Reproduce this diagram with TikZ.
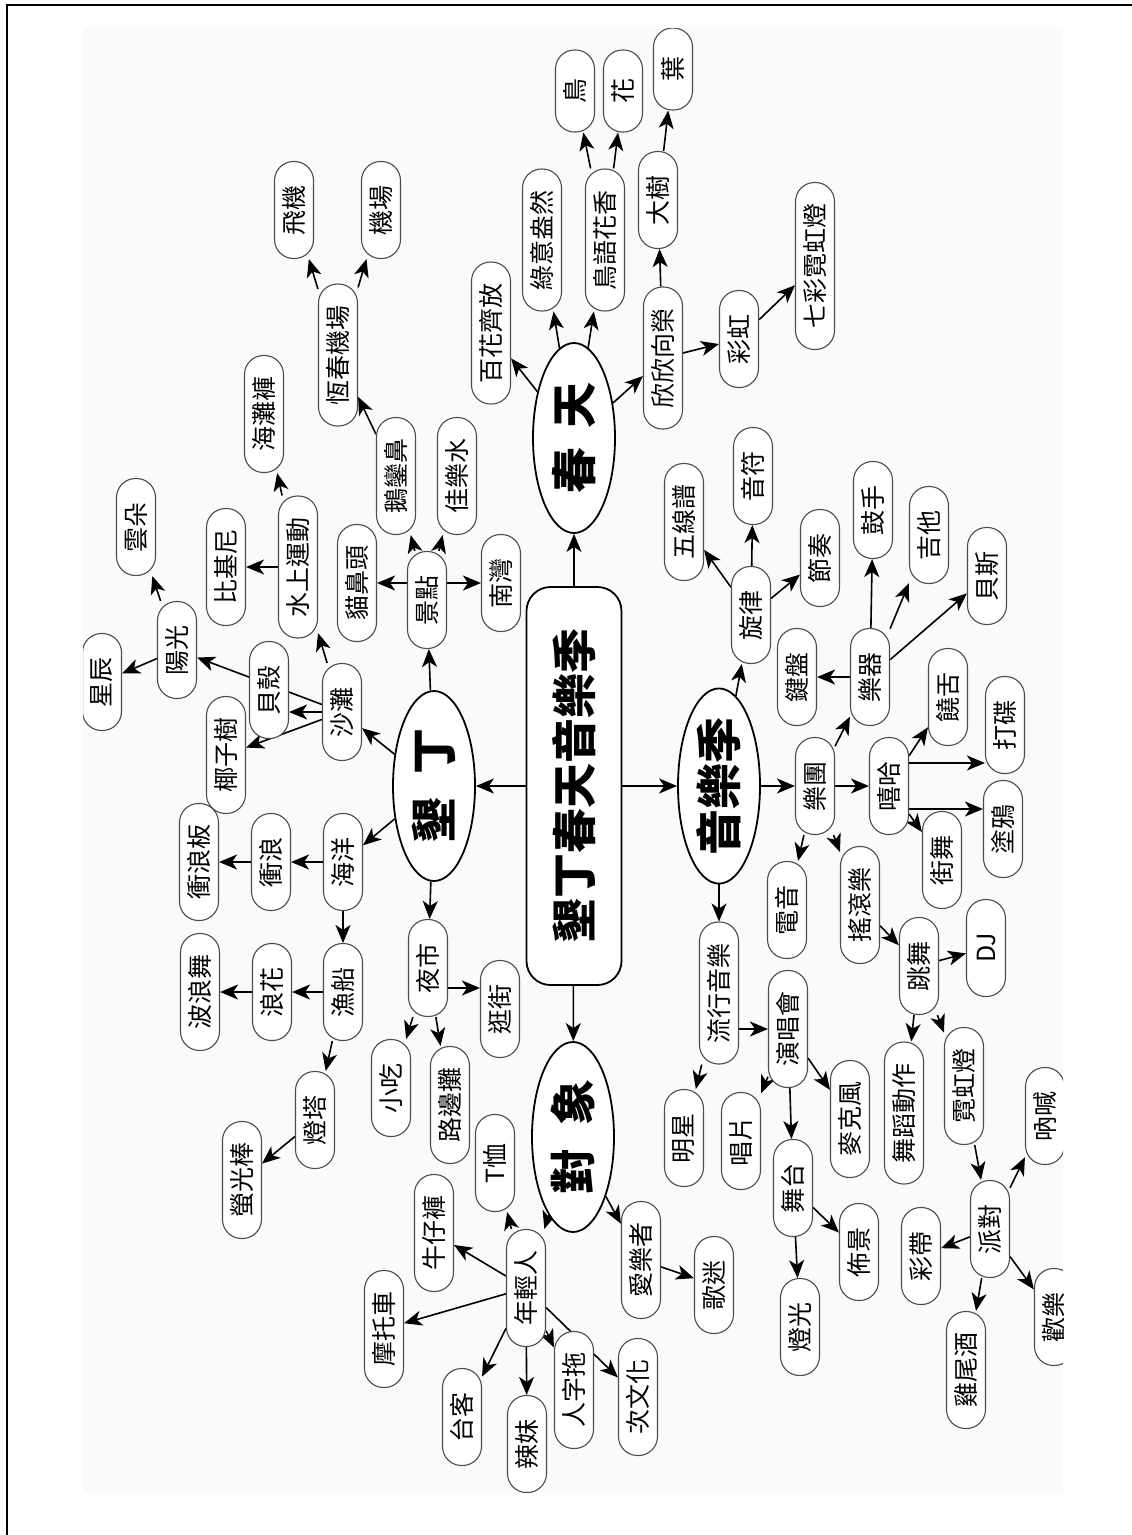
\documentclass[tikz,border=0pt]{standalone}
\usepackage{fontspec}
\newfontfamily\cjk{Noto Sans CJK TC}
\usetikzlibrary{arrows.meta,shapes.geometric}
\pgfdeclarelayer{back}
\pgfdeclarelayer{edges}
\pgfsetlayers{back,edges,main}

\begin{document}
\begin{tikzpicture}[x=1pt,y=-1pt,
  leaf/.style={draw=black!70,line width=1.1pt,fill=white,rounded corners=19pt,rotate=90,
    minimum height=39pt,minimum width=97pt,inner xsep=21pt,inner ysep=0pt,
    font=\cjk\fontsize{25}{25}\selectfont},
  hub/.style={draw,line width=1.8pt,fill=white,ellipse,rotate=90,minimum width=190pt,
    minimum height=82pt,inner sep=0pt,font=\cjk\bfseries\fontsize{46}{46}\selectfont},
  topic/.style={draw,line width=1.8pt,fill=white,rounded corners=24pt,rotate=90,
    minimum width=398pt,minimum height=95pt,font=\cjk\bfseries\fontsize{45}{45}\selectfont},
  arr/.style={-{Stealth[length=18pt,width=15pt,inset=5pt]},line width=1.6pt}]
\useasboundingbox (0,0) rectangle (1132,1535);
\begin{pgfonlayer}{back}
\fill[black!2] (83,28) rectangle (1063,1493);
\end{pgfonlayer}
\draw[line width=2.4pt] (7,1535) -- (7,5) -- (1132,5);

\begin{scope}
\clip (83,28) rectangle (1063,1493);
% centre and the four topics
\node[topic] (fest) at (574,786) {墾丁春天音樂季};
\node[hub] (kt) at (434,786) {墾\hspace{0.5em}丁};
\node[hub] (spr) at (574,438) {春\hspace{0.4em}天};
\node[hub] (mus) at (719,786) {音樂季};
\node[hub] (obj) at (573,1137) {對\hspace{0.5em}象};

% spring
\node[leaf] (bloom) at (491,333) {百花齊放};
\node[leaf] (green) at (542,240) {綠意盎然};
\node[leaf] (birdsong) at (605,240) {鳥語花香};
\node[leaf,minimum width=82pt] (bird) at (575,91) {鳥};
\node[leaf,minimum width=82pt] (flower) at (623,91) {花};
\node[leaf,minimum width=82pt] (leafy) at (673,69) {葉};
\node[leaf] (tree) at (658,200) {大樹};
\node[leaf] (thrive) at (663,358) {欣欣向榮};
\node[leaf] (rainbow) at (739,339) {彩虹};
\node[leaf] (neonall) at (815,266) {七彩霓虹燈};

% kenting
\node[leaf] (spot) at (427,600) {景點};
\node[leaf] (maobi) at (357,583) {貓鼻頭};
\node[leaf] (eluan) at (396,476) {鵝鑾鼻};
\node[leaf] (jiale) at (457,476) {佳樂水};
\node[leaf] (nanwan) at (501,583) {南灣};
\node[leaf] (hcair) at (338,355) {恆春機場};
\node[leaf] (plane) at (294,210) {飛機};
\node[leaf] (airport) at (381,210) {機場};
\node[leaf] (beach) at (342,712) {沙灘};
\node[leaf] (coco) at (226,755) {椰子樹};
\node[leaf] (shell) at (269,690) {貝殼};
\node[leaf] (water) at (298,567) {水上運動};
\node[leaf] (sun) at (177,650) {陽光};
\node[leaf] (bikini) at (226,567) {比基尼};
\node[leaf] (trunks) at (264,414) {海灘褲};
\node[leaf] (cloud) at (136,527) {雲朵};
\node[leaf] (star) at (102,682) {星辰};
\node[leaf] (ocean) at (343,862) {海洋};
\node[leaf] (surf) at (271,862) {衝浪};
\node[leaf] (board) at (199,862) {衝浪板};
\node[leaf] (boat) at (343,992) {漁船};
\node[leaf] (spray) at (272,992) {浪花};
\node[leaf] (wave) at (200,992) {波浪舞};
\node[leaf] (tower) at (315,1120) {燈塔};
\node[leaf] (glow) at (242,1180) {螢光棒};
\node[leaf] (market) at (428,968) {夜市};
\node[leaf] (stroll) at (500,1009) {逛街};
\node[leaf] (snack) at (391,1088) {小吃};
\node[leaf] (stall) at (450,1105) {路邊攤};

% audience
\node[leaf] (youth) at (526,1288) {年輕人};
\node[leaf] (tee) at (495,1163) {T恤};
\node[leaf] (jeans) at (434,1233) {牛仔褲};
\node[leaf] (moto) at (384,1329) {摩托車};
\node[leaf] (taike) at (462,1417) {台客};
\node[leaf] (spicy) at (527,1444) {辣妹};
\node[leaf] (flip) at (574,1390) {人字拖};
\node[leaf] (subcul) at (638,1397) {次文化};
\node[leaf] (lover) at (641,1260) {愛樂者};
\node[leaf] (fans) at (714,1285) {歌迷};

% music
\node[leaf] (melody) at (751,615) {旋律};
\node[leaf] (staff) at (684,522) {五線譜};
\node[leaf] (note) at (753,476) {音符};
\node[leaf] (rhythm) at (820,558) {節奏};
\node[leaf] (band) at (815,786) {樂團};
\node[leaf] (instr) at (870,677) {樂器};
\node[leaf] (keys) at (797,677) {鍵盤};
\node[leaf] (drum) at (873,510) {鼓手};
\node[leaf] (guitar) at (929,535) {吉他};
\node[leaf] (bass) at (987,576) {貝斯};
\node[leaf] (hiphop) at (889,786) {嘻哈};
\node[leaf] (rap) at (948,697) {饒舌};
\node[leaf] (scratch) at (1005,725) {打碟};
\node[leaf] (graffiti) at (1003,829) {塗鴉};
\node[leaf] (street) at (942,860) {街舞};
\node[leaf] (edm) at (787,910) {電音};
\node[leaf] (rock) at (860,905) {搖滾樂};
\node[leaf] (dance) at (919,966) {跳舞};
\node[leaf] (dj) at (986,948) {DJ};
\node[leaf] (moves) at (904,1113) {舞蹈動作};
\node[leaf] (neon) at (964,1086) {霓虹燈};
\node[leaf] (party) at (990,1229) {派對};
\node[leaf] (shout) at (1045,1116) {吶喊};
\node[leaf] (ribbon) at (921,1256) {彩帶};
\node[leaf] (cocktail) at (966,1370) {雞尾酒};
\node[leaf] (joy) at (1054,1317) {歡樂};
\node[leaf] (pop) at (719,993) {流行音樂};
\node[leaf] (concert) at (788,1029) {演唱會};
\node[leaf] (idol) at (684,1138) {明星};
\node[leaf] (record) at (741,1141) {唱片};
\node[leaf] (mic) at (850,1119) {麥克風};
\node[leaf] (stage) at (793,1188) {舞台};
\node[leaf] (light) at (800,1327) {燈光};
\node[leaf] (scene) at (859,1252) {佈景};

\coordinate (hhA) at ([yshift=23pt]hiphop.center);
\coordinate (hhB) at ([yshift=-23pt]hiphop.center);
\coordinate (ymA) at ([yshift=-20pt]market.center);

\begin{pgfonlayer}{edges}
\draw[arr] (fest) -- (kt);
\draw[arr] (fest) -- (spr);
\draw[arr] (fest) -- (mus);
\draw[arr] (fest) -- (obj);

\draw[arr] (spr) -- (bloom);
\draw[arr] (spr) -- (green);
\draw[arr] (spr) -- (birdsong);
\draw[arr] (spr) -- (thrive);
\draw[arr] (birdsong) -- (bird);
\draw[arr] (birdsong) -- (flower);
\draw[arr] (thrive) -- (tree);
\draw[arr] (tree) -- (leafy);
\draw[arr] (thrive) -- (rainbow);
\draw[arr] (rainbow) -- (neonall);

\draw[arr] (kt) -- (spot);
\draw[arr] (spot |- maobi) -- (maobi.south);
\draw[arr] (spot |- nanwan) -- (nanwan.north);
\draw[arr] (spot) -- (eluan);
\draw[arr] (spot) -- (jiale);
\draw[arr] (eluan) -- (hcair);
\draw[arr] (hcair) -- (plane);
\draw[arr] (hcair) -- (airport);
\draw[arr] (kt) -- (beach);
\draw[arr] (beach) -- (coco);
\draw[arr] (beach) -- (beach -| shell.south);
\draw[arr] (beach) -- (sun);
\draw[arr] (beach) -- (water);
\draw[arr] (water) -- (bikini);
\draw[arr] (water) -- (trunks);
\draw[arr] (sun) -- (cloud);
\draw[arr] (sun) -- (star);
\draw[arr] (kt) -- (ocean);
\draw[arr] (ocean) -- (surf);
\draw[arr] (surf) -- (board);
\draw[arr] (ocean) -- (boat);
\draw[arr] (boat) -- (spray);
\draw[arr] (spray) -- (wave);
\draw[arr] (boat) -- (tower);
\draw[arr] (tower) -- (glow);
\draw[arr] (kt) -- (market);
\draw[arr] (ymA) -- (ymA -| stroll.north);
\draw[arr] (market) -- (snack);
\draw[arr] (market) -- (stall);

\draw[arr] (obj) -- (youth);
\draw[arr] (obj) -- (lover);
\draw[arr] (lover) -- (fans);
\draw[arr] (youth) -- (tee);
\draw[arr] (youth) -- (jeans);
\draw[arr] (youth) -- (moto);
\draw[arr] (youth) -- (taike);
\draw[arr] (youth) -- (spicy);
\draw[arr] (youth) -- (flip);
\draw[arr] (youth) -- (subcul);

\draw[arr] (mus) -- (melody);
\draw[arr] (melody) -- (staff);
\draw[arr] (melody) -- (note);
\draw[arr] (melody) -- (rhythm);
\draw[arr] (mus) -- (band);
\draw[arr] (band) -- (instr);
\draw[arr] (instr) -- (keys);
\draw[arr] (instr) -- (drum);
\draw[arr] (instr) -- (guitar);
\draw[arr] (instr) -- (bass);
\draw[arr] (band) -- (hiphop);
\draw[arr] (hiphop) -- (rap);
\draw[arr] (hhA) -- (hhA -| scratch.north);
\draw[arr] (hhB) -- (hhB -| graffiti.north);
\draw[arr] (hiphop) -- (street);
\draw[arr] (band) -- (edm);
\draw[arr] (band) -- (rock);
\draw[arr] (rock) -- (dance);
\draw[arr] (dance) -- (dj);
\draw[arr] (dance) -- (moves);
\draw[arr] (dance) -- (neon);
\draw[arr] (neon) -- (party);
\draw[arr] (party) -- (shout);
\draw[arr] (party) -- (ribbon);
\draw[arr] (party) -- (cocktail);
\draw[arr] (party) -- (joy);
\draw[arr] (mus) -- (pop);
\draw[arr] (pop |- concert) -- (concert.north);
\draw[arr] (pop) -- (idol);
\draw[arr] (concert) -- (record);
\draw[arr] (concert) -- (stage);
\draw[arr] (concert) -- (mic);
\draw[arr] (stage) -- (light);
\draw[arr] (stage) -- (scene);
\end{pgfonlayer}
\end{scope}
\end{tikzpicture}
\end{document}
